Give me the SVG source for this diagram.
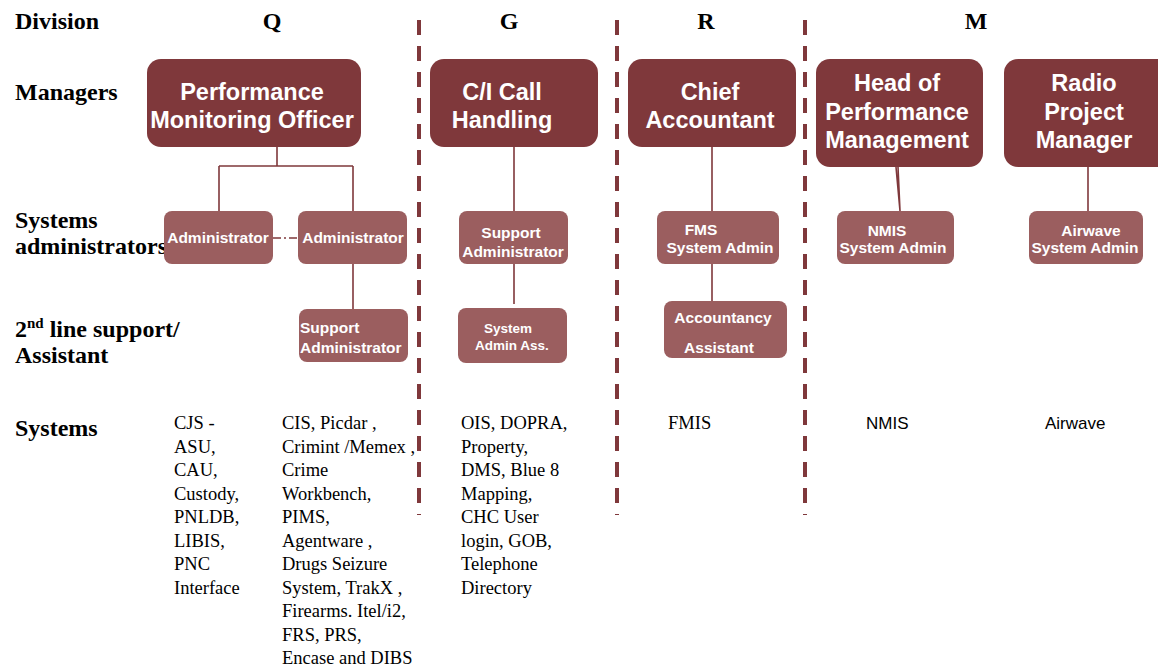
<svg xmlns="http://www.w3.org/2000/svg" width="1158" height="669" viewBox="0 0 1158 669">
<style>
.lbl{font-family:"Liberation Serif",serif;font-weight:bold;font-size:24px;fill:#000}
.sys{font-family:"Liberation Serif",serif;font-size:18.5px;fill:#000}
.syss{font-family:"Liberation Sans",sans-serif;font-size:17px;fill:#000}
.mgr{fill:#7f383b}
.sub{fill:#9b5e5f}
.mt{font-family:"Liberation Sans",sans-serif;font-weight:bold;font-size:23.5px;fill:#fff;text-anchor:middle}
.st{font-family:"Liberation Sans",sans-serif;font-weight:bold;font-size:15.5px;fill:#fff;text-anchor:middle}
.sts{font-family:"Liberation Sans",sans-serif;font-weight:bold;font-size:15.5px;fill:#fff;text-anchor:start}
.stx{font-family:"Liberation Sans",sans-serif;font-weight:bold;font-size:13.5px;fill:#fff;text-anchor:middle}
.div{stroke:#7f383b;stroke-width:4;stroke-dasharray:15 11;fill:none}
.con{stroke:#7f383b;stroke-width:1.6;fill:none}
</style>
<rect width="1158" height="669" fill="#fff"/>
<g id="labels">
<text class="lbl" x="15" y="29">Division</text>
<text class="lbl" x="15" y="100">Managers</text>
<text class="lbl" x="15" y="228">Systems</text>
<text class="lbl" x="15" y="254">administrators</text>
<text class="lbl" x="15" y="337">2<tspan style="font-size:15px" dy="-9">nd</tspan><tspan dy="9"> line support/</tspan></text>
<text class="lbl" x="15" y="363">Assistant</text>
<text class="lbl" x="15" y="436">Systems</text>
<text class="lbl" x="272" y="29" text-anchor="middle">Q</text>
<text class="lbl" x="509" y="29" text-anchor="middle">G</text>
<text class="lbl" x="706" y="29" text-anchor="middle">R</text>
<text class="lbl" x="976" y="29" text-anchor="middle">M</text>
</g>
<g id="dividers">
<line class="div" x1="419" y1="20" x2="419" y2="515"/>
<line class="div" x1="617" y1="20" x2="617" y2="515"/>
<line class="div" x1="805" y1="20" x2="805" y2="515"/>
</g>
<g id="connectors">
<path class="con" d="M277 147V166M219 166H353M219 166V211M353 166V211"/>
<line class="con" x1="273" y1="238" x2="298" y2="238" stroke-dasharray="8 3 2 3"/>
<path class="con" d="M353 264V309"/>
<path class="con" d="M514 147V211M514 264V304"/>
<path class="con" d="M712 147V211M712 264V301"/>
<path class="con" d="M896 167L900 211M898 167L900 211"/>
<path class="con" d="M1088 167V211"/>
</g>
<g id="pmo"><rect class="mgr" x="147" y="59" width="214" height="88" rx="14"/>
<text class="mt" x="252" y="100">Performance</text><text class="mt" x="252" y="128">Monitoring Officer</text></g>
<g id="cich"><rect class="mgr" x="430" y="59" width="168" height="88" rx="14"/>
<text class="mt" x="502" y="100">C/I Call</text><text class="mt" x="502" y="128">Handling</text></g>
<g id="chief"><rect class="mgr" x="628" y="59" width="168" height="88" rx="14"/>
<text class="mt" x="710" y="100">Chief</text><text class="mt" x="710" y="128">Accountant</text></g>
<g id="hpm"><rect class="mgr" x="816" y="59" width="167" height="108" rx="14"/>
<text class="mt" x="897" y="91">Head of</text><text class="mt" x="897" y="120">Performance</text><text class="mt" x="897" y="148">Management</text></g>
<g id="rpm"><rect class="mgr" x="1004" y="59" width="170" height="108" rx="14"/>
<text class="mt" x="1084" y="91">Radio</text><text class="mt" x="1084" y="120">Project</text><text class="mt" x="1084" y="148">Manager</text></g>
<g id="admin1"><rect class="sub" x="164" y="211" width="109" height="53" rx="8"/>
<text class="st" x="218" y="243">Administrator</text></g>
<g id="admin2"><rect class="sub" x="298" y="211" width="109" height="53" rx="8"/>
<text class="st" x="353" y="243">Administrator</text></g>
<g id="supadmq"><rect class="sub" x="299" y="309" width="109" height="53" rx="8"/>
<text class="sts" x="300" y="333">Support</text><text class="sts" x="300" y="353">Administrator</text></g>
<g id="supadmg"><rect class="sub" x="459" y="211" width="109" height="53" rx="8"/>
<text class="st" x="511" y="238">Support</text><text class="st" x="513" y="257">Administrator</text></g>
<g id="sysadmass"><rect class="sub" x="458" y="308" width="109" height="55" rx="8"/>
<text class="stx" x="508" y="333">System</text><text class="stx" x="512" y="350">Admin Ass.</text></g>
<g id="fms"><rect class="sub" x="657" y="211" width="122" height="53" rx="8"/>
<text class="st" x="701" y="235">FMS</text><text class="st" x="720" y="253">System Admin</text></g>
<g id="accass"><rect class="sub" x="664" y="301" width="123" height="57" rx="8"/>
<text class="st" x="723" y="323">Accountancy</text><text class="st" x="719" y="353">Assistant</text></g>
<g id="nmis"><rect class="sub" x="837" y="211" width="117" height="53" rx="8"/>
<text class="st" x="887" y="236">NMIS</text><text class="st" x="893" y="253">System Admin</text></g>
<g id="airwave"><rect class="sub" x="1029" y="211" width="114" height="53" rx="8"/>
<text class="st" x="1091" y="236">Airwave</text><text class="st" x="1085" y="253">System Admin</text></g>
<g id="systems">
<text class="sys" x="174" y="429">CJS -<tspan x="174" dy="23.5">ASU,</tspan><tspan x="174" dy="23.5">CAU,</tspan><tspan x="174" dy="23.5">Custody,</tspan><tspan x="174" dy="23.5">PNLDB,</tspan><tspan x="174" dy="23.5">LIBIS,</tspan><tspan x="174" dy="23.5">PNC</tspan><tspan x="174" dy="23.5">Interface</tspan></text>
<text class="sys" x="282" y="429">CIS, Picdar ,<tspan x="282" dy="23.5">Crimint /Memex ,</tspan><tspan x="282" dy="23.5">Crime</tspan><tspan x="282" dy="23.5">Workbench,</tspan><tspan x="282" dy="23.5">PIMS,</tspan><tspan x="282" dy="23.5">Agentware ,</tspan><tspan x="282" dy="23.5">Drugs Seizure</tspan><tspan x="282" dy="23.5">System, TrakX ,</tspan><tspan x="282" dy="23.5">Firearms. Itel/i2,</tspan><tspan x="282" dy="23.5">FRS, PRS,</tspan><tspan x="282" dy="23.5">Encase and DIBS</tspan></text>
<text class="sys" x="461" y="429">OIS, DOPRA,<tspan x="461" dy="23.5">Property,</tspan><tspan x="461" dy="23.5">DMS, Blue 8</tspan><tspan x="461" dy="23.5">Mapping,</tspan><tspan x="461" dy="23.5">CHC User</tspan><tspan x="461" dy="23.5">login, GOB,</tspan><tspan x="461" dy="23.5">Telephone</tspan><tspan x="461" dy="23.5">Directory</tspan></text>
<text class="sys" x="668" y="429">FMIS</text>
<text class="syss" x="866" y="429">NMIS</text>
<text class="syss" x="1045" y="429">Airwave</text>
</g>
</svg>
